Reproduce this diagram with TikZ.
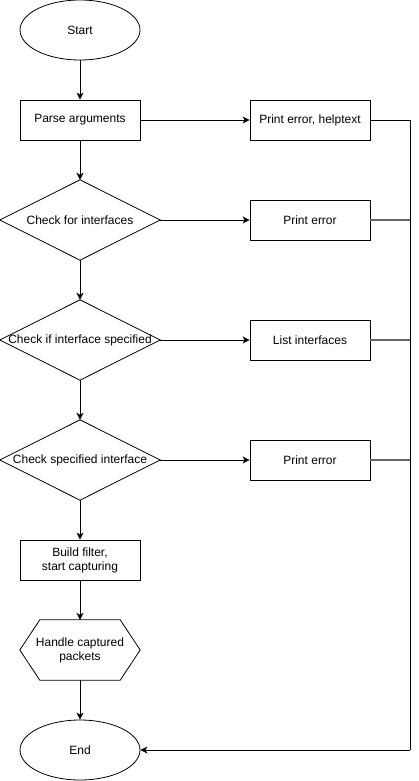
\documentclass[tikz,border=0pt]{standalone}
\usepackage{fontspec}
\setmainfont{Liberation Sans}
\usetikzlibrary{shapes.geometric,arrows.meta}
\begin{document}
\begin{tikzpicture}[x=1pt,y=-1pt,
  every node/.style={font=\fontsize{12}{14}\selectfont, align=center, inner sep=0pt},
  termbox/.style={ellipse, draw, line width=0.8pt, minimum width=120, minimum height=60},
  procbox/.style={rectangle, draw, line width=0.8pt, minimum width=120, minimum height=40},
  decbox/.style={rectangle, minimum width=160, minimum height=80},
  hexbox/.style={rectangle, minimum width=120, minimum height=60},
  arr/.style={line width=0.8pt, -{Stealth[length=7pt,width=7pt,inset=2pt]}},
  ln/.style={line width=0.8pt},
  glin/.style={line width=1.2pt, black!60}]
\useasboundingbox (0,0) rectangle (419,781);
\node[termbox] (start) at (80,30) {Start};
\node[procbox] (parse) at (80,120) {Parse arguments};
\node[procbox] (help) at (310,120) {Print error, helptext};
\node[decbox] (cfi) at (80,220) {Check for interfaces};
\node[procbox] (err1) at (310,220) {Print error};
\node[decbox] (cis) at (80,340) {Check if interface specified};
\node[procbox] (list) at (310,340) {List interfaces};
\node[decbox] (csi) at (80,460) {Check specified interface};
\node[procbox] (err2) at (310,460) {Print error};
\node[procbox] (build) at (80,560) {Build filter,\\start capturing};
\node[hexbox] (hand) at (80,650) {Handle captured\\packets};
\node[termbox] (end) at (80,750) {End};
% diamonds
\foreach \d in {cfi,cis,csi}{
  \draw[line width=0.8pt] (\d.north) -- (\d.east) -- (\d.south) -- (\d.west) -- cycle;
}
% hexagon
\draw[line width=0.8pt] (hand.west) -- ([xshift=20]hand.north west) -- ([xshift=-20]hand.north east)
  -- (hand.east) -- ([xshift=-20]hand.south east) -- ([xshift=20]hand.south west) -- cycle;
% bus
\coordinate (b1) at (410,120);
\coordinate (b2) at (410,220);
\coordinate (b3) at (410,340);
\coordinate (b4) at (410,460);
\coordinate (b5) at (410,750);
% main flow
\draw[arr] (start) -- (parse);
\draw[arr] (parse) -- (cfi.north);
\draw[arr] (cfi.south) -- (cis.north);
\draw[arr] (cis.south) -- (csi.north);
\draw[arr] (csi.south) -- (build);
\draw[arr] (build) -- (hand.north);
\draw[arr] (hand.south) -- (end);
% side branches
\draw[arr] (parse) -- (help);
\draw[arr] (cfi.east) -- (err1);
\draw[arr] (cis.east) -- (list);
\draw[arr] (csi.east) -- (err2);
\draw[ln] (help.east) -- (b1) -- (b5);
\draw[glin] (err1.east) -- (b2);
\draw[glin] (list.east) -- (b3);
\draw[glin] (err2.east) -- (b4);
\draw[arr] (b5) -- (end.east);
\end{tikzpicture}
\end{document}
